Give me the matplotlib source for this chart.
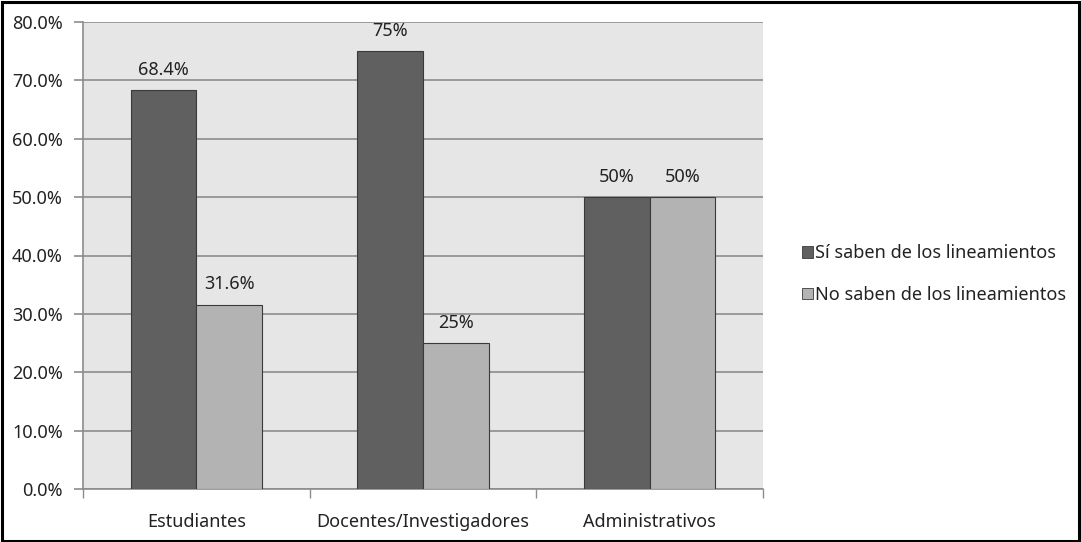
import matplotlib.pyplot as plt
import numpy as np
from matplotlib.patches import Rectangle

categories = ["Estudiantes", "Docentes/Investigadores", "Administrativos"]
si_saben = [68.4, 75, 50]
no_saben = [31.6, 25, 50]
si_labels = ["68.4%", "75%", "50%"]
no_labels = ["31.6%", "25%", "50%"]
series_names = ["Sí saben de los lineamientos", "No saben de los lineamientos"]

plt.rcParams["font.family"] = ["Noto Sans", "DejaVu Sans"]

DARK = "#606060"
LIGHT = "#b3b3b3"
GRID = "#8c8c8c"
TEXT = "#222222"
FS = 13

fig = plt.figure(figsize=(10.81, 5.42), dpi=100)
ax = fig.add_axes([83 / 1081, 1 - 489 / 542, 680 / 1081, 467 / 542])
ax.set_facecolor("#e6e6e6")

x = np.arange(len(categories))
w = 0.289
b1 = ax.bar(x - w / 2, si_saben, w, color=DARK, edgecolor="#3a3a3a", linewidth=0.8, zorder=3)
b2 = ax.bar(x + w / 2, no_saben, w, color=LIGHT, edgecolor="#3a3a3a", linewidth=0.8, zorder=3)

for bars, labels in ((b1, si_labels), (b2, no_labels)):
    for rect, lab in zip(bars, labels):
        ax.annotate(lab, (rect.get_x() + rect.get_width() / 2, rect.get_height()),
                    xytext=(0, 8), textcoords="offset points",
                    ha="center", va="bottom", fontsize=FS, color=TEXT)

ax.set_xlim(-0.5, 2.5)
ax.set_ylim(0, 80)
ax.set_yticks(np.arange(0, 81, 10))
ax.set_yticklabels([f"{v:.1f}%" for v in np.arange(0, 81, 10)])
ax.yaxis.grid(True, color=GRID, linewidth=1.2, zorder=0)
ax.set_axisbelow(True)

# category ticks sit on the boundaries, labels in the middle
ax.set_xticks([-0.5, 0.5, 1.5, 2.5])
ax.set_xticklabels([])
ax.set_xticks(x, minor=True)
ax.set_xticklabels(categories, minor=True)
ax.tick_params(axis="x", which="minor", length=0, pad=17, labelsize=FS, labelcolor=TEXT)
ax.tick_params(axis="x", which="major", length=6.5, width=1, color=GRID)
ax.tick_params(axis="y", length=6.5, width=1.2, color=GRID, labelsize=FS, labelcolor=TEXT, pad=8)

for side in ("top", "right"):
    ax.spines[side].set_visible(False)
for side in ("left", "bottom"):
    ax.spines[side].set_color(GRID)
    ax.spines[side].set_linewidth(1.2)

handles = [Rectangle((0, 0), 1, 1, facecolor=DARK, edgecolor="#3a3a3a", linewidth=0.6),
           Rectangle((0, 0), 1, 1, facecolor=LIGHT, edgecolor="#3a3a3a", linewidth=0.6)]
fig.legend(handles, series_names, loc="center left", bbox_to_anchor=(786 / 1081, 1 - 274 / 542),
           frameon=False, fontsize=FS, handlelength=0.6, handleheight=0.6,
           handletextpad=0.1, labelspacing=1.3, labelcolor=TEXT)

# outer frame around the whole figure
fig.patches.append(Rectangle((0.002, 0.002), 0.996, 0.995, transform=fig.transFigure,
                             fill=False, edgecolor="black", linewidth=2.2, zorder=10))

fig.savefig("out.png", dpi=100, facecolor="white")
